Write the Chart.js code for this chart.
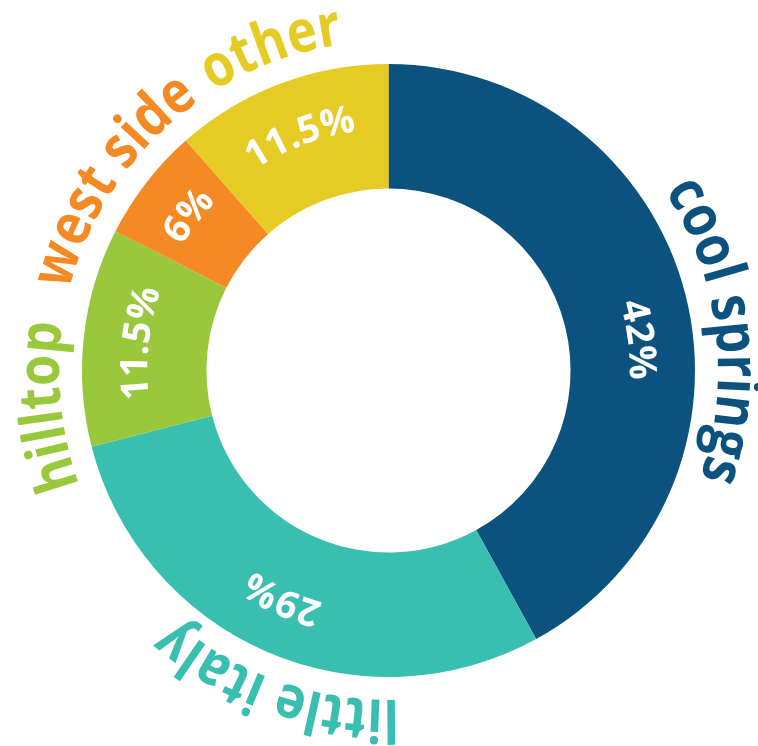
<!DOCTYPE html>
<html><head><meta charset="utf-8">
<script src="https://cdn.jsdelivr.net/npm/chart.js@4/dist/chart.umd.min.js"></script>
<style>html,body{margin:0;padding:0;background:#fff;overflow:hidden}#wrap{width:758px;height:746px;position:relative}</style>
</head><body><div id="wrap"><canvas id="c"></canvas></div>
<script>
const categories = ['cool springs', 'little italy', 'hilltop', 'west side', 'other'];
const shares = [42, 29, 11.5, 6, 11.5];
const valueLabels = ['42%', '29%', '11.5%', '6%', '11.5%'];
const colors = ['#0c527e', '#38bfb0', '#99c83c', '#f58923', '#e6cb25'];

const DEG = Math.PI / 180;
function drawCurved(ctx, text, cx, cy, r, center, font, color, sx) {
  ctx.save();
  ctx.font = font; ctx.fillStyle = color;
  ctx.textAlign = 'center'; ctx.textBaseline = 'alphabetic';
  const chars = [...text];
  const widths = chars.map(ch => ctx.measureText(ch).width * sx);
  const total = widths.reduce((a, b) => a + b, 0);
  let a = center - total / r / 2;
  chars.forEach((ch, k) => {
    const w = widths[k];
    const ang = a + w / 2 / r;
    ctx.save();
    ctx.translate(cx + r * Math.cos(ang), cy + r * Math.sin(ang));
    ctx.rotate(ang + Math.PI / 2);
    ctx.scale(sx, 1);
    ctx.fillText(ch, 0, 0);
    ctx.restore();
    a += w / r;
  });
  ctx.restore();
}

const arcText = {
  id: 'arcText',
  afterDatasetsDraw(chart, args, o) {
    const ctx = chart.ctx;
    const meta = chart.getDatasetMeta(0);
    meta.data.forEach((arc, i) => {
      const p = arc.getProps(['x', 'y', 'startAngle', 'endAngle', 'innerRadius', 'outerRadius'], true);
      const mid = (p.startAngle + p.endAngle) / 2;
      drawCurved(ctx, categories[i], p.x, p.y, p.outerRadius + o.labelGap,
        mid + o.labelShift[i] * DEG, o.labelFont, colors[i], o.labelScale);
      drawCurved(ctx, valueLabels[i], p.x, p.y, (p.innerRadius + p.outerRadius) / 2 - o.valueDrop,
        mid + o.valueShift[i] * DEG, o.valueFont, '#ffffff', 1);
    });
  }
};

function build() {
  new Chart(document.getElementById('c'), {
    type: 'doughnut',
    data: {
      labels: categories,
      datasets: [{ data: shares, backgroundColor: colors, borderWidth: 0, hoverOffset: 0 }]
    },
    options: {
      responsive: true, maintainAspectRatio: false, animation: false,
      cutout: '59.4%',
      layout: { padding: { left: 82, right: 63, top: 64, bottom: 69 } },
      events: [],
      plugins: {
        legend: { display: false }, tooltip: { enabled: false },
        arcText: {
          labelGap: 23, labelFont: 'bold 59px "Open Sans"', labelScale: 0.855,
          labelShift: [7.4, -3.9, -12.3, -3.3, 0.7],
          valueFont: 'bold 38px "Open Sans"', valueDrop: 3,
          valueShift: [7.4, 1.5, 0, 0, 0]
        }
      }
    },
    plugins: [arcText]
  });
}
Promise.all([document.fonts.load('bold 59px "Open Sans"')]).then(build, build);
</script></body></html>
